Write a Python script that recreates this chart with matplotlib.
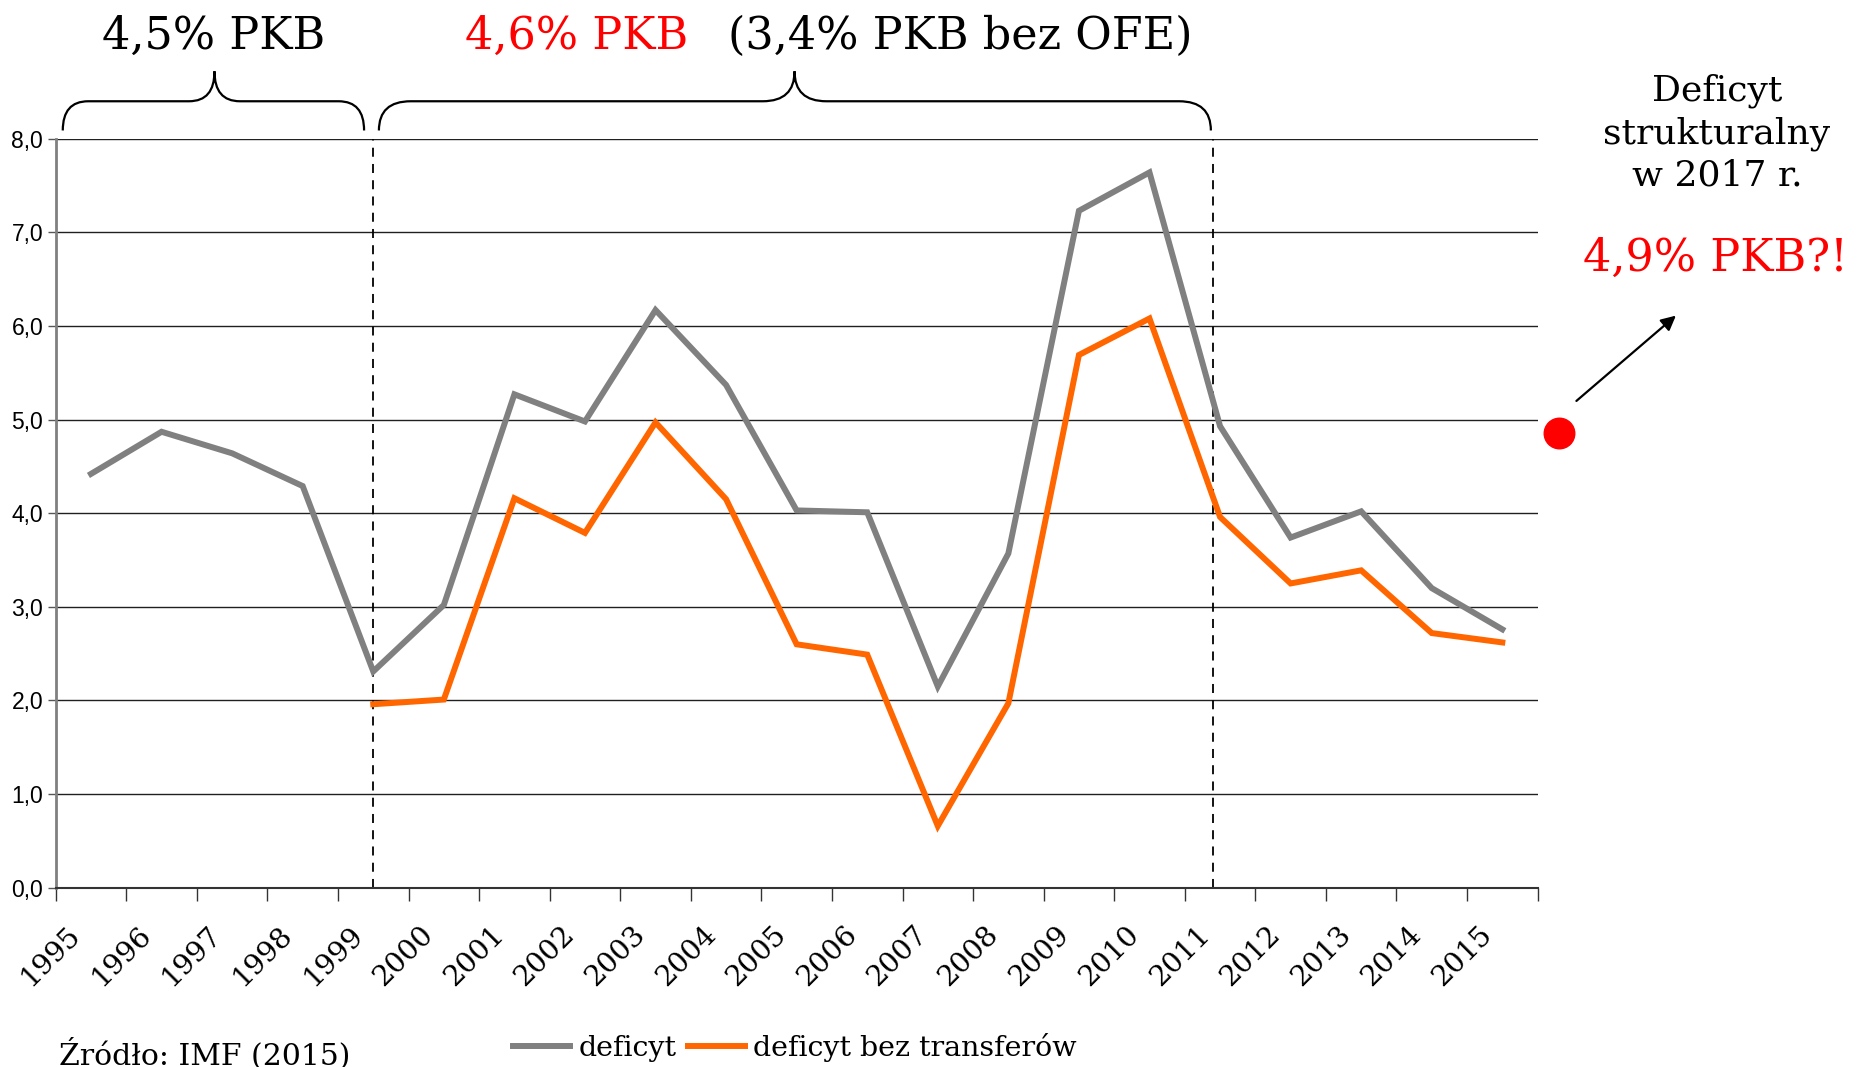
import matplotlib
matplotlib.use('Agg')
import matplotlib.pyplot as plt
from matplotlib.path import Path
from matplotlib.patches import PathPatch
from matplotlib.lines import Line2D
import matplotlib.transforms as mtransforms
import numpy as np

plt.rcParams.update({'font.family': 'DejaVu Serif'})

# data (% PKB)
years = [str(y) for y in range(1995, 2016)]
deficyt = [4.42, 4.87, 4.64, 4.29, 2.31, 3.02, 5.27, 4.98, 6.17, 5.37, 4.03,
           4.01, 2.15, 3.57, 7.23, 7.64, 4.93, 3.74, 4.02, 3.20, 2.76]
bez_transferow_years = [str(y) for y in range(1999, 2016)]
bez_transferow = [1.96, 2.01, 4.16, 3.79, 4.97, 4.15, 2.60, 2.49, 0.66, 1.97,
                  5.69, 6.08, 3.96, 3.25, 3.39, 2.72, 2.62]
deficyt_2017 = 4.86
y_ticks = [0.0, 1.0, 2.0, 3.0, 4.0, 5.0, 6.0, 7.0, 8.0]

GREY = '#808080'
ORANGE = '#ff6600'
RED = '#ff0000'

fig = plt.figure(figsize=(18.57, 10.67), dpi=100)
ax = fig.add_axes([0.030, 0.168, 0.798, 0.702])

x_all = np.arange(len(years))
x_bez = np.array([years.index(y) for y in bez_transferow_years])

ax.plot(x_all, deficyt, color=GREY, lw=4.3, solid_joinstyle='miter', zorder=3)
ax.plot(x_bez, bez_transferow, color=ORANGE, lw=4.3, solid_joinstyle='miter', zorder=4)

# 2017 structural deficit point, outside of the axis
ax.plot([20.81], [deficyt_2017], 'o', color=RED, ms=22, clip_on=False, zorder=5)
ax.annotate('', xy=(22.49, 6.13), xytext=(21.02, 5.18),
            arrowprops=dict(arrowstyle='-|>', color='black', lw=1.6, mutation_scale=22),
            annotation_clip=False)

# dashed period separators
for xv in [4, 15.9]:
    ax.vlines(xv, 0, 8, colors='black', linestyles=(0, (5, 4)), lw=1.3, zorder=2)

# axes styling
ax.set_xlim(-0.5, len(years) - 0.5)
ax.set_ylim(0, 8)
ax.set_yticks(y_ticks)
ax.set_yticklabels([f'{v:.1f}'.replace('.', ',') for v in y_ticks])
ax.yaxis.grid(True, color='#202020', lw=1.0)
ax.set_axisbelow(True)
ax.tick_params(axis='y', length=6, width=1, color='#555555', pad=3,
               labelsize=16.5, labelfontfamily='Liberation Sans')

ax.set_xticks(x_all)
ax.set_xticklabels(years, rotation=45, ha='right', rotation_mode='anchor', fontsize=20.5)
ax.set_xticks(np.arange(-0.5, len(years)), minor=True)
ax.tick_params(axis='x', which='major', length=0, pad=24)
ax.tick_params(axis='x', which='minor', length=9, width=1, color='#333333')
shift = mtransforms.ScaledTranslation(-0.24, 0, fig.dpi_scale_trans)
for lbl in ax.get_xticklabels():
    lbl.set_transform(lbl.get_transform() + shift)

for side in ['top', 'right']:
    ax.spines[side].set_visible(False)
ax.spines['left'].set_color(GREY)
ax.spines['left'].set_linewidth(2)
ax.spines['bottom'].set_color('#333333')
ax.spines['bottom'].set_linewidth(1.5)


def draw_brace(x0, x1, xm, r, y_bot=1.011, y_flat=1.050, y_tip=1.090):
    # curly brace above the axis: x in data units, y in axes fraction
    verts = [(x0, y_bot), (x0, y_flat), (x0 + r, y_flat),
             (xm - r, y_flat), (xm, y_flat), (xm, y_tip),
             (xm, y_flat), (xm + r, y_flat),
             (x1 - r, y_flat), (x1, y_flat), (x1, y_bot)]
    codes = [Path.MOVETO, Path.CURVE3, Path.CURVE3,
             Path.LINETO, Path.CURVE3, Path.CURVE3,
             Path.CURVE3, Path.CURVE3,
             Path.LINETO, Path.CURVE3, Path.CURVE3]
    trans = mtransforms.blended_transform_factory(ax.transData, ax.transAxes)
    ax.add_patch(PathPatch(Path(verts, codes), transform=trans, fill=False,
                           lw=1.6, color='black', clip_on=False))


draw_brace(-0.40, 3.87, 1.75, 0.36)
draw_brace(4.08, 15.87, 9.97, 0.45)

# headline texts
fig.text(214 / 1857, 0.966, '4,5% PKB', fontsize=32, ha='center', va='center')
fig.text(577 / 1857, 0.966, '4,6% PKB', fontsize=32, ha='center', va='center', color=RED)
fig.text(960 / 1857, 0.966, '(3,4% PKB bez OFE)', fontsize=32, ha='center', va='center')
fig.text(0.9246, 0.875, 'Deficyt\nstrukturalny\nw 2017 r.', fontsize=26,
         ha='center', va='center', linespacing=1.3)
fig.text(0.9235, 0.758, '4,9% PKB?!', fontsize=32, ha='center', va='center', color=RED)

# legend and source
handles = [Line2D([], [], color=GREY, lw=4.3), Line2D([], [], color=ORANGE, lw=4.3)]
fig.legend(handles, ['deficyt', 'deficyt bez transferów'], loc='center',
           bbox_to_anchor=(795 / 1857, 0.018), ncol=2, frameon=False,
           fontsize=20.5, handlelength=2.0, handletextpad=0.3, columnspacing=0.4)
fig.text(59 / 1857, 0.012, 'Źródło: IMF (2015)', fontsize=21.5, ha='left', va='center')

fig.savefig('out.png', dpi=100)
